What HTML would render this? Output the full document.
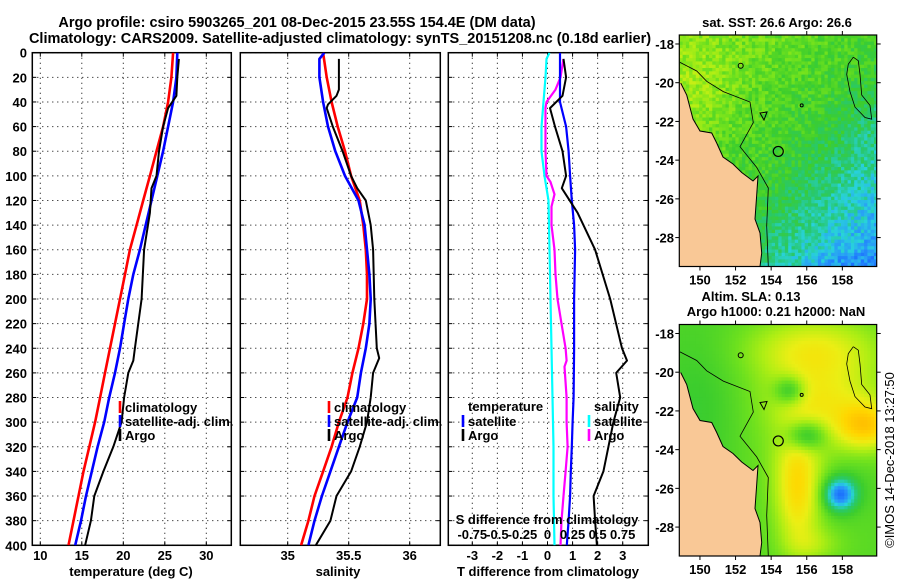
<!DOCTYPE html>
<html><head><meta charset="utf-8"><style>
html,body{margin:0;padding:0;background:#fff;}
svg{display:block;font-family:"Liberation Sans",Arial,sans-serif;font-weight:bold;}
</style></head><body>
<svg id="fig" width="900" height="580" viewBox="0 0 900 580">
<defs><clipPath id="mapclip"><rect x="679.3" y="35" width="197.4" height="231.5"/></clipPath></defs>
<text x="297" y="27" font-size="14.5" text-anchor="middle">Argo profile: csiro 5903265_201 08-Dec-2015 23.55S 154.4E (DM data)</text>
<text x="340" y="43" font-size="14.5" text-anchor="middle">Climatology: CARS2009. Satellite-adjusted climatology: synTS_20151208.nc (0.18d earlier)</text>
<g id="p1"></g>
<g id="p2"></g>
<g id="p3"></g>
<text x="777" y="27" font-size="13" text-anchor="middle">sat. SST: 26.6 Argo: 26.6</text>
<text x="751" y="301" font-size="13" text-anchor="middle">Altim. SLA: 0.13</text>
<text x="776" y="316" font-size="13" text-anchor="middle">Argo h1000: 0.21 h2000: NaN</text>
<g id="m1"></g>
<g id="m2"></g>
<text transform="translate(894,460) rotate(-90)" font-size="13" font-weight="normal" text-anchor="middle">©IMOS 14-Dec-2018 13:27:50</text>
</svg>
<script>
// ---- data ----
const tClimDepth=[0,20,40,60,80,100,120,140,160,180,200,220,240,260,280,300,320,340,360,380,400];
const tClim=[26.0,25.8,25.4,24.8,24.0,23.2,22.4,21.6,20.8,20.2,19.6,19.0,18.4,17.8,17.2,16.6,15.9,15.2,14.6,14.0,13.4];
const tSat=[26.5,26.4,26.0,25.4,24.8,24.1,23.4,22.7,22.0,21.2,20.6,20.1,19.6,19.0,18.3,17.7,16.9,16.2,15.5,14.9,14.2];
const argoDepth=[5,20,35,45,60,80,100,110,130,160,200,240,250,260,280,300,320,340,360,380,400];
const tArgo=[26.7,26.5,26.4,25.4,24.8,24.3,24.0,23.4,23.2,22.5,22.2,21.4,21.2,20.6,20.1,19.8,18.8,17.6,16.5,16.1,15.4];
const sClim=[35.29,35.32,35.36,35.41,35.47,35.52,35.59,35.62,35.64,35.65,35.65,35.62,35.58,35.53,35.49,35.42,35.36,35.29,35.22,35.17,35.11];
const sSatDepth=[0,5,20,40,60,80,100,120,140,160,180,200,220,240,260,280,300,320,340,360,380,400];
const sSat=[35.30,35.26,35.26,35.29,35.33,35.39,35.47,35.58,35.63,35.65,35.67,35.68,35.67,35.64,35.60,35.57,35.49,35.42,35.35,35.28,35.22,35.17];
const sArgoDepth=[5,30,35,42,45,60,80,100,110,120,140,160,200,240,248,260,280,300,320,340,360,380,400];
const sArgo=[35.42,35.42,35.40,35.33,35.32,35.37,35.45,35.52,35.57,35.64,35.68,35.70,35.71,35.73,35.75,35.70,35.68,35.65,35.59,35.52,35.40,35.35,35.23];
const dtSatDepth=[0,40,60,80,100,120,140,160,200,240,280,300,320,340,360,380,400];
const dtSat=[0.5,0.5,0.74,0.84,0.9,0.97,1.06,1.1,1.06,1.06,1.04,1.0,0.97,0.93,0.9,0.84,0.77];
const dtArgo=[0.64,0.74,0.6,0.1,0.3,0.6,0.74,0.57,1.2,1.9,2.5,2.97,3.17,2.74,2.9,2.63,2.43,2.23,1.84,1.9,1.97];
const dsSatDepth=[0,5,20,40,60,80,100,110,120,160,200,240,280,320,360,400];
const dsSat=[0.02,-0.01,-0.02,-0.04,-0.06,-0.06,-0.03,-0.01,0.01,0.02,0.03,0.04,0.05,0.06,0.06,0.07];
const dsArgoDepth=[5,20,30,40,45,80,100,105,115,125,140,160,180,200,220,240,250,255,280,300,320,340,360,380,400];
const dsArgo=[0.16,0.13,0.08,-0.01,-0.02,-0.02,-0.01,0.03,0.07,0.04,0.04,0.07,0.08,0.1,0.14,0.18,0.19,0.17,0.19,0.19,0.2,0.18,0.16,0.14,0.13];
const depthTicks=[0,20,40,60,80,100,120,140,160,180,200,220,240,260,280,300,320,340,360,380,400];
const tTicks=[10,15,20,25,30];
const sTicks=[35,35.5,36];
const dTicks=[-3,-2,-1,0,1,2,3];
const dsTickLabels=["-0.75","-0.5","-0.25","0","0.25","0.5","0.75"];
const lonTicks=[150,152,154,156,158];
const latTicks=[-18,-20,-22,-24,-26,-28];
const argoLon=154.4, argoLat=-23.55;

const NS="http://www.w3.org/2000/svg";
function mk(parent,tag,attrs,name,text){const e=document.createElementNS(NS,tag);for(const k in attrs)e.setAttribute(k,attrs[k]);


if(text!==undefined)e.textContent=text;parent.appendChild(e);return e;}
const Y0=52.7,Y1=545.3;
const yD=d=>Y0+d*(Y1-Y0)/400;
const xT=t=>40.3+(t-10)*8.3;
const xS=s=>287.7+(s-35)*122;
const xDT=t=>547.5+t*25.07;
const xDS=s=>547.5+s*4*25.07;

function frame(g,x0,x1,xs,xticks,yLabels){
  xticks.forEach(v=>{mk(g,'line',{x1:xs(v),x2:xs(v),y1:Y0,y2:Y1,stroke:'#000','stroke-width':1,'stroke-dasharray':'1,4'},'grid-vertical');});
  depthTicks.forEach(d=>{mk(g,'line',{x1:x0,x2:x1,y1:yD(d),y2:yD(d),stroke:'#000','stroke-width':1,'stroke-dasharray':'1,4'},'grid-horizontal');
    mk(g,'line',{x1:x0,x2:x0+4,y1:yD(d),y2:yD(d),stroke:'#000'},'y-tick');
    mk(g,'line',{x1:x1-4,x2:x1,y1:yD(d),y2:yD(d),stroke:'#000'},'y-tick');
    if(yLabels) mk(g,'text',{x:27,y:yD(d)+5,'font-size':13,'text-anchor':'end'},'y-tick-label',String(d));});
  xticks.forEach(v=>{mk(g,'line',{x1:xs(v),x2:xs(v),y1:Y1-4,y2:Y1,stroke:'#000'},'x-tick');mk(g,'line',{x1:xs(v),x2:xs(v),y1:Y0,y2:Y0+4,stroke:'#000'},'x-tick');});
  mk(g,'rect',{x:x0,y:Y0,width:x1-x0,height:Y1-Y0,fill:'none',stroke:'#000','stroke-width':1.5},'plot-frame');
}
function line(g,xs,vals,depths,color,w,name){
  const pts=vals.map((v,i)=>xs(v).toFixed(1)+','+yD(depths[i]).toFixed(1)).join(' ');
  mk(g,'polyline',{points:pts,fill:'none',stroke:color,'stroke-width':w,'stroke-linejoin':'round'},name);
}
function clip(id,x0,x1){const defs=document.querySelector('#fig defs');
const c=document.createElementNS(NS,'clipPath');c.setAttribute('id',id);const r=document.createElementNS(NS,'rect');r.setAttribute('x',x0);r.setAttribute('y',Y0);r.setAttribute('width',x1-x0);r.setAttribute('height',Y1-Y0);c.appendChild(r);defs.appendChild(c);}
function legendItem(g,x,y,color,label,name){mk(g,'rect',{x:x-1.3,y:y-6,width:2.6,height:12,fill:color},name+'-marker');mk(g,'text',{x:x+5,y:y+5,'font-size':13},name+'-label',label);}

// panel 1
const p1=document.getElementById('p1');
frame(p1,32.3,231.3,xT,tTicks,true);
tTicks.forEach(v=>mk(p1,'text',{x:xT(v),y:560,'font-size':13,'text-anchor':'middle'},'x-tick-label',String(v)));
mk(p1,'text',{x:131,y:576,'font-size':13,'text-anchor':'middle'},'x-axis-title','temperature (deg C)');
clip('c1',32.3,231.3);
const l1=mk(p1,'g',{'clip-path':'url(#c1)'},'temperature-lines');
line(l1,xT,tClim,tClimDepth,'#f00',2.6,'climatology-temperature-line');
line(l1,xT,tSat,tClimDepth,'#00f',2.6,'satellite-temperature-line');
line(l1,xT,tArgo,argoDepth,'#000',2,'argo-temperature-line');
legendItem(p1,120,407,'#f00','climatology','legend-climatology');
legendItem(p1,120,421,'#00f','satellite-adj. clim.','legend-satellite');
legendItem(p1,120,435,'#000','Argo','legend-argo');

// panel 2
const p2=document.getElementById('p2');
frame(p2,240.3,440.3,xS,sTicks,false);
sTicks.forEach(v=>mk(p2,'text',{x:xS(v),y:560,'font-size':13,'text-anchor':'middle'},'x-tick-label',String(v)));
mk(p2,'text',{x:338,y:576,'font-size':13,'text-anchor':'middle'},'x-axis-title','salinity');
clip('c2',240.3,440.3);
const l2=mk(p2,'g',{'clip-path':'url(#c2)'},'salinity-lines');
line(l2,xS,sClim,tClimDepth,'#f00',2.6,'climatology-salinity-line');
line(l2,xS,sSat,sSatDepth,'#00f',2.6,'satellite-salinity-line');
line(l2,xS,sArgo,sArgoDepth,'#000',2,'argo-salinity-line');
legendItem(p2,329,407,'#f00','climatology','legend-climatology');
legendItem(p2,329,421,'#00f','satellite-adj. clim.','legend-satellite');
legendItem(p2,329,435,'#000','Argo','legend-argo');

// panel 3
const p3=document.getElementById('p3');
frame(p3,448.3,648.3,xDT,dTicks,false);
dTicks.forEach(v=>mk(p3,'text',{x:xDT(v),y:560,'font-size':13,'text-anchor':'middle'},'x-tick-label',String(v)));
mk(p3,'text',{x:548,y:576,'font-size':13,'text-anchor':'middle'},'x-axis-title','T difference from climatology');
clip('c3',448.3,648.3);
const l3=mk(p3,'g',{'clip-path':'url(#c3)'},'difference-lines');
line(l3,xDS,dsSat,dsSatDepth,'#0ff',2.2,'satellite-salinity-diff-line');
line(l3,xDS,dsArgo,dsArgoDepth,'#f0f',2.2,'argo-salinity-diff-line');
line(l3,xDT,dtSat,dtSatDepth,'#00f',2.2,'satellite-temperature-diff-line');
line(l3,xDT,dtArgo,argoDepth,'#000',2,'argo-temperature-diff-line');
mk(p3,'text',{x:468,y:411,'font-size':13},'legend-temperature-title','temperature');
legendItem(p3,463,421,'#00f','satellite','legend-temp-satellite');
legendItem(p3,463,435,'#000','Argo','legend-temp-argo');
mk(p3,'text',{x:594,y:411,'font-size':13},'legend-salinity-title','salinity');
legendItem(p3,589,421,'#0ff','satellite','legend-sal-satellite');
legendItem(p3,589,435,'#f0f','Argo','legend-sal-argo');
mk(p3,'text',{x:547,y:524,'font-size':13,'text-anchor':'middle'},'s-axis-title','S difference from climatology');
dsTickLabels.forEach((s,i)=>mk(p3,'text',{x:xDT(dTicks[i]),y:539,'font-size':13,'text-anchor':'middle'},'s-tick-label',s));

// ---- maps ----
const MX0=679.3,MX1=876.7,MY0=35,MY1=266.5;
const xLon=l=>MX0+(l-148.84)*17.8;
const yLat=l=>82.7+(-20-l)*19.36;
function hash(i,j){let h=(i*374761393+j*668265263)>>>0;h=((h^(h>>>13))*1274126177)>>>0;return ((h^(h>>>16))%1000)/1000;}
function cmap(w,stops){w=Math.max(0,Math.min(1,w));for(let i=1;i<stops.length;i++){if(w<=stops[i][0]){const a=stops[i-1],b=stops[i],f=(w-a[0])/(b[0]-a[0]);
return 'rgb('+[0,1,2].map(k=>Math.round(a[1][k]+(b[1][k]-a[1][k])*f)).join(',')+')';}}return 'rgb('+stops[stops.length-1][1].join(',')+')';}
const stops=[[0,[16,80,255]],[0.15,[40,150,250]],[0.25,[40,210,220]],[0.35,[40,200,110]],[0.45,[60,205,45]],[0.55,[110,225,30]],[0.65,[175,238,20]],[0.75,[235,238,20]],[0.85,[255,215,0]],[1,[255,175,0]]];
const coast=[[680.7,83],[686.7,95],[693,119],[700,131],[711.7,133],[716.7,143],[723,157],[733,164],[741.7,172.5],[753,181],[758,176],[756.7,195],[755,219],[760,233],[761.7,253],[760,266.5],[679.3,266.5]];
const contour=[[680,62.4],[696.7,71],[706.7,81.3],[723.3,91.6],[750,102],[753.3,122.6],[740,146.7],[756.7,167.4],[768.3,188],[766.7,225.9],[768.3,266.5]];
const island=[[853.3,57.2],[858.3,60.7],[860,74.4],[861.7,95],[870,105.4],[871.7,119.2],[865,117.5],[855,107.1],[850,91.6],[846.7,74.4],[848.3,64.1],[853.3,57.2]];
function gauss(x,y,cx,cy,sx,sy){return Math.exp(-((x-cx)*(x-cx))/(2*sx*sx)-((y-cy)*(y-cy))/(2*sy*sy));}
function sstField(x,y,i,j){const u=(x-MX0)/(MX1-MX0),v=(y-MY0)/(MY1-MY0);
return 0.64-0.14*u-0.14*v-0.2*Math.max(0,u+v-1.05)+0.06*gauss(x,y,700,90,25,25)-0.06*gauss(x,y,840,262,20,8)+(hash(i,j)-0.5)*0.07;}
function slaField(x,y){let w=0.5;
w+=0.2*gauss(x,y,810,60,45,22);
w+=0.15*gauss(x,y,830,130,50,60);
w-=0.25*gauss(x,y,790,101,11,10);
w+=0.12*gauss(x,y,815,110,35,22);
w-=0.3*gauss(x,y,806,146,14,11);
w+=0.3*gauss(x,y,798,200,16,42);
w+=0.3*gauss(x,y,866,136,20,16);
w-=0.42*gauss(x,y,840,205,11,11);
w-=0.1*gauss(x,y,845,190,28,26);
w+=0.1*gauss(x,y,815,255,20,12);
w-=0.06*gauss(x,y,700,120,30,60);
return w;}
function buildMap(gid,fieldFn,cell,dy){
  const g=document.getElementById(gid);
  const inner=mk(g,'g',{transform:'translate(0,'+dy+')'},'map-body');
  const cells=mk(inner,'g',{'clip-path':'url(#mapclip)'},'map-color-grid');
  let i=0;for(let x=MX0;x<MX1;x+=cell,i++){let j=0;for(let y=MY0;y<MY1;y+=cell,j++){
    mk(cells,'rect',{x:x.toFixed(1),y:y.toFixed(1),width:cell+0.4,height:cell+0.4,fill:cmap(fieldFn(x+cell/2,y+cell/2,i,j),stops)},'map-cell');}}
  mk(inner,'polygon',{points:coast.map(p=>p.join(',')).join(' ')+' 679.3,83',fill:'#f9c896'},'land');
  mk(inner,'polyline',{points:coast.slice(0,16).map(p=>p.join(',')).join(' '),fill:'none',stroke:'#000','stroke-width':1},'coastline');
  mk(inner,'polyline',{points:contour.map(p=>p.join(',')).join(' '),fill:'none',stroke:'#000','stroke-width':0.8},'bathymetry-contour');
  mk(inner,'polyline',{points:island.map(p=>p.join(',')).join(' '),fill:'none',stroke:'#000','stroke-width':0.8},'reef-contour');
  mk(inner,'circle',{cx:740.7,cy:65.8,r:2.5,fill:'none',stroke:'#000'},'seamount-contour');
  mk(inner,'circle',{cx:801.7,cy:105.4,r:1.5,fill:'none',stroke:'#000'},'seamount-contour');
  mk(inner,'polygon',{points:'760,113 767,112 764,120',fill:'none',stroke:'#000'},'seamount-contour');
  mk(inner,'circle',{cx:xLon(argoLon),cy:yLat(argoLat),r:5,fill:'none',stroke:'#000','stroke-width':1.2},'argo-location-marker');
  mk(inner,'rect',{x:MX0,y:MY0,width:MX1-MX0,height:MY1-MY0,fill:'none',stroke:'#000','stroke-width':1.2},'map-frame');
  lonTicks.forEach(l=>{mk(inner,'line',{x1:xLon(l),x2:xLon(l),y1:MY0-4,y2:MY0,stroke:'#000'},'lon-tick');
    mk(inner,'line',{x1:xLon(l),x2:xLon(l),y1:MY1,y2:MY1+4,stroke:'#000'},'lon-tick');
    mk(inner,'text',{x:xLon(l),y:MY1+18,'font-size':13,'text-anchor':'middle'},'lon-tick-label',String(l));});
  latTicks.forEach(l=>{mk(inner,'line',{x1:MX0-4,x2:MX0,y1:yLat(l),y2:yLat(l),stroke:'#000'},'lat-tick');
    mk(inner,'line',{x1:MX1,x2:MX1+4,y1:yLat(l),y2:yLat(l),stroke:'#000'},'lat-tick');
    mk(inner,'text',{x:674,y:yLat(l)+5,'font-size':13,'text-anchor':'end'},'lat-tick-label',String(l));});
}
buildMap('m1',sstField,3.3,0);
buildMap('m2',(x,y)=>slaField(x,y),3.3,289.5);
</script>
</body></html>
